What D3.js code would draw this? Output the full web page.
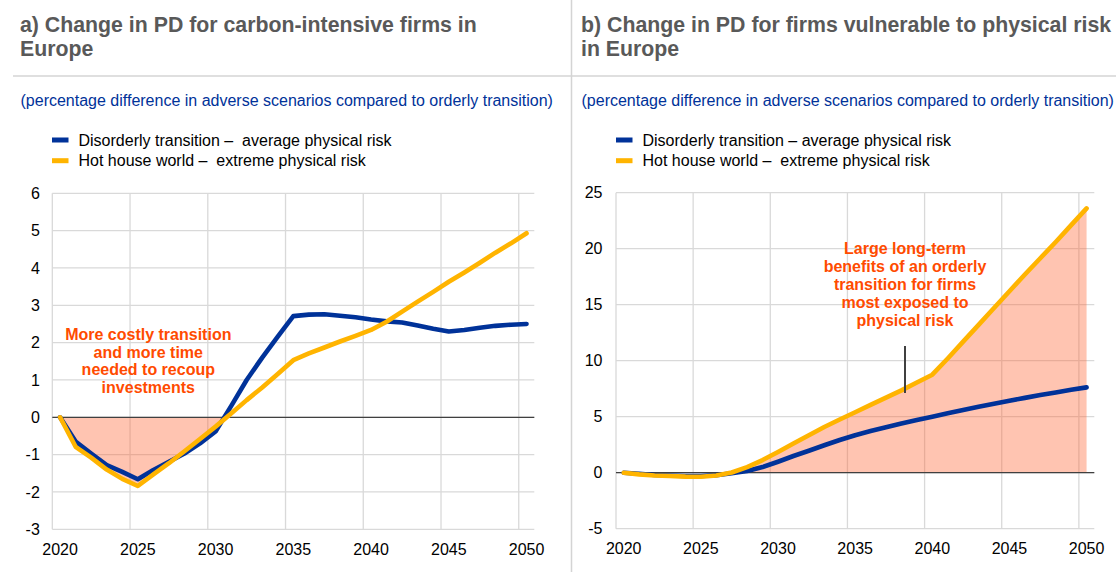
<!DOCTYPE html>
<html>
<head>
<meta charset="utf-8">
<script src="https://cdn.jsdelivr.net/npm/d3@7"></script>
<style>
  body { margin: 0; background: #fff; }
  svg { display: block; font-family: "Liberation Sans", Arial, sans-serif; }
  text { white-space: pre; }
</style>
</head>
<body>
<svg id="chart" width="1116" height="576"></svg>
<script>
// Years on the horizontal axis (one category per year)
const years = [2020, 2021, 2022, 2023, 2024, 2025, 2026, 2027, 2028, 2029, 2030,
               2031, 2032, 2033, 2034, 2035, 2036, 2037, 2038, 2039, 2040,
               2041, 2042, 2043, 2044, 2045, 2046, 2047, 2048, 2049, 2050];
const labelYears = [2020, 2025, 2030, 2035, 2040, 2045, 2050];

// Panel a) carbon-intensive firms, % difference vs orderly transition
const carbonDisorderly = [0, -0.65, -0.97, -1.28, -1.46, -1.66, -1.41, -1.19, -0.97, -0.70, -0.38,
                          0.30, 1.00, 1.60, 2.16, 2.71, 2.75, 2.76, 2.72, 2.68, 2.62,
                          2.57, 2.54, 2.46, 2.37, 2.30, 2.34, 2.40, 2.45, 2.48, 2.50];
const carbonHotHouse = [0, -0.79, -1.08, -1.40, -1.65, -1.84, -1.53, -1.23, -0.91, -0.58, -0.25,
                        0.10, 0.46, 0.80, 1.16, 1.53, 1.71, 1.87, 2.03, 2.18, 2.34,
                        2.56, 2.83, 3.10, 3.36, 3.63, 3.88, 4.14, 4.41, 4.66, 4.93];
const carbonTicks = [-3, -2, -1, 0, 1, 2, 3, 4, 5, 6];

// Panel b) firms vulnerable to physical risk
const physicalDisorderly = [0, -0.10, -0.20, -0.25, -0.30, -0.30, -0.22, -0.05, 0.15, 0.50, 0.98,
                            1.49, 1.96, 2.45, 2.92, 3.35, 3.72, 4.06, 4.40, 4.70, 5.00,
                            5.30, 5.60, 5.88, 6.15, 6.43, 6.68, 6.93, 7.17, 7.40, 7.62];
const physicalHotHouse = [0, -0.15, -0.25, -0.30, -0.35, -0.36, -0.25, 0.02, 0.50, 1.13, 1.85,
                          2.60, 3.35, 4.08, 4.75, 5.40, 6.05, 6.70, 7.35, 8.05, 8.75,
                          10.20, 11.70, 13.20, 14.70, 16.20, 17.70, 19.15, 20.60, 22.10, 23.60];
const physicalTicks = [-5, 0, 5, 10, 15, 20, 25];

const titlesA = ["a) Change in PD for carbon-intensive firms in", "Europe"];
const titlesB = ["b) Change in PD for firms vulnerable to physical risk", "in Europe"];
const subtitle = "(percentage difference in adverse scenarios compared to orderly transition)";
const legendA = ["Disorderly transition –  average physical risk", "Hot house world –  extreme physical risk"];
const legendB = ["Disorderly transition – average physical risk", "Hot house world –  extreme physical risk"];
const noteA = ["More costly transition", "and more time", "needed to recoup", "investments"];
const noteB = ["Large long-term", "benefits of an orderly", "transition for firms", "most exposed to", "physical risk"];

const BLUE = "#003299", YELLOW = "#FFB400", GRID = "#d9d9d9", NOTE = "#FF4B00";

const svg = d3.select("#chart");

// Frame separators
svg.append("line").attr("x1", 571.5).attr("x2", 571.5).attr("y1", 0).attr("y2", 572)
  .attr("stroke", "#d4d4d4").attr("stroke-width", 1.5);
svg.append("line").attr("x1", 13).attr("x2", 1116).attr("y1", 76).attr("y2", 76)
  .attr("stroke", "#d4d4d4").attr("stroke-width", 1.5);

// Plain hyphen for negative tick labels
const tickFmt = d => String(d);

function drawPanel(cfg) {
  const g = svg.append("g");

  // Title, subtitle, legend
  cfg.title.forEach((t, i) => {
    g.append("text").attr("x", cfg.textX).attr("y", 32 + i * 24)
      .attr("font-size", "21.3px").attr("font-weight", "bold").attr("fill", "#595959").text(t);
  });
  g.append("text").attr("x", cfg.textX + 0.5).attr("y", 105.5)
    .attr("font-size", "16px").attr("fill", BLUE).text(subtitle);
  const legendColors = [BLUE, YELLOW];
  cfg.legend.forEach((t, i) => {
    g.append("rect").attr("x", cfg.legendX).attr("y", 137.5 + i * 20.7)
      .attr("width", 16.5).attr("height", 5).attr("fill", legendColors[i]);
    g.append("text").attr("x", cfg.legendX + 26.5).attr("y", 145.7 + i * 20.7)
      .attr("font-size", "16px").attr("fill", "#000").text(t);
  });

  const x = d3.scaleBand().domain(years).range([cfg.x0, cfg.x1]).padding(0);
  const cx = d => x(d) + x.bandwidth() / 2;
  const y = d3.scaleLinear().domain(cfg.yDomain).range([cfg.y1, cfg.y0]);

  // Gridlines
  g.append("g").selectAll("line").data(cfg.ticks).join("line")
    .attr("x1", cfg.x0).attr("x2", cfg.x1)
    .attr("y1", d => y(d)).attr("y2", d => y(d))
    .attr("stroke", GRID).attr("stroke-width", 1.3);
  g.append("g").selectAll("line").data(labelYears).join("line")
    .attr("x1", d => x(d)).attr("x2", d => x(d))
    .attr("y1", cfg.y0).attr("y2", cfg.y1)
    .attr("stroke", GRID).attr("stroke-width", 1.3);

  // Shaded gap between scenarios, clipped to one side of zero
  const clipId = "clip-" + cfg.id;
  const zeroY = y(0);
  g.append("clipPath").attr("id", clipId).append("rect")
    .attr("x", cfg.x0).attr("width", cfg.x1 - cfg.x0)
    .attr("y", cfg.fillBelow ? zeroY : cfg.y0)
    .attr("height", cfg.fillBelow ? cfg.y1 - zeroY : zeroY - cfg.y0);
  const area = d3.area().x((d, i) => cx(years[i])).y0(zeroY).y1(d => y(d));
  g.append("path").datum(cfg.hot).attr("d", area)
    .attr("fill", "rgb(255,100,50)").attr("fill-opacity", 0.38)
    .attr("clip-path", `url(#${clipId})`);

  // Zero line
  g.append("line").attr("x1", cfg.x0).attr("x2", cfg.x1).attr("y1", zeroY).attr("y2", zeroY)
    .attr("stroke", "#404040").attr("stroke-width", 1.2);

  // Axes (labels only)
  const xAxis = g.append("g").attr("transform", `translate(0,${cfg.y1})`)
    .call(d3.axisBottom(x).tickValues(labelYears).tickSize(0).tickPadding(14.2));
  const yAxis = g.append("g").attr("transform", `translate(${cfg.x0},0)`)
    .call(d3.axisLeft(y).tickValues(cfg.ticks).tickFormat(tickFmt).tickSize(0).tickPadding(cfg.yPad));
  [xAxis, yAxis].forEach(a => {
    a.select(".domain").remove();
    a.selectAll("text").attr("font-size", "16px").attr("fill", "#000")
      .attr("font-family", "'Liberation Sans', Arial, sans-serif");
  });

  // Scenario lines
  const line = d3.line().x((d, i) => cx(years[i])).y(d => y(d));
  [[cfg.dis, BLUE], [cfg.hot, YELLOW]].forEach(([vals, col]) => {
    g.append("path").datum(vals).attr("d", line)
      .attr("fill", "none").attr("stroke", col).attr("stroke-width", 4.6)
      .attr("stroke-linejoin", "round").attr("stroke-linecap", "round");
  });

  // Annotation
  cfg.note.forEach((t, i) => {
    g.append("text").attr("x", cfg.noteX).attr("y", cfg.noteY + i * 17.9)
      .attr("text-anchor", "middle").attr("font-size", "16px").attr("font-weight", "bold")
      .attr("fill", NOTE).text(t);
  });
  if (cfg.pointer) {
    g.append("line").attr("x1", cfg.pointer[0]).attr("x2", cfg.pointer[0])
      .attr("y1", cfg.pointer[1]).attr("y2", cfg.pointer[2])
      .attr("stroke", "#404040").attr("stroke-width", 2);
  }
}

drawPanel({
  id: "a", title: titlesA, legend: legendA, textX: 20, legendX: 52,
  x0: 52.3, x1: 534.3, y0: 193.3, y1: 529.3, yDomain: [-3, 6], ticks: carbonTicks, yPad: 12.5,
  dis: carbonDisorderly, hot: carbonHotHouse, fillBelow: true,
  note: noteA, noteX: 148.3, noteY: 339.6
});

drawPanel({
  id: "b", title: titlesB, legend: legendB, textX: 581, legendX: 616,
  x0: 616, x1: 1094.3, y0: 192.7, y1: 528.7, yDomain: [-5, 25], ticks: physicalTicks, yPad: 13.5,
  dis: physicalDisorderly, hot: physicalHotHouse, fillBelow: false,
  note: noteB, noteX: 905, noteY: 254, pointer: [905, 346, 393]
});
</script>
</body>
</html>
